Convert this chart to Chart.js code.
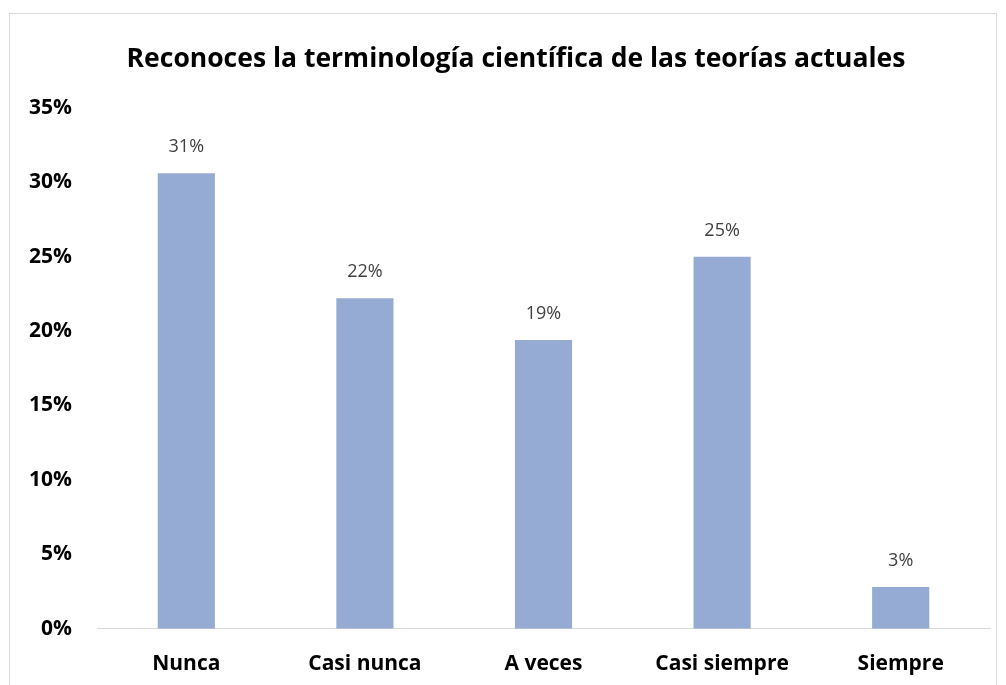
<!DOCTYPE html>
<html>
<head>
<meta charset="utf-8">
<script src="https://cdn.jsdelivr.net/npm/chart.js@4.4.1/dist/chart.umd.min.js"></script>
<style>
  html, body { margin: 0; padding: 0; background: #fff; }
  #wrap { position: relative; width: 1006px; height: 685px; }
  #frame { position: absolute; left: 9px; top: 13px; width: 986px; height: 700px; border: 1px solid #d9d9d9; pointer-events: none; }
</style>
</head>
<body>
<div id="wrap">
  <canvas id="myChart" width="1006" height="685"></canvas>
  <div id="frame"></div>
</div>
<script>
const categories = ["Nunca", "Casi nunca", "A veces", "Casi siempre", "Siempre"] ;
const percentValues = [30.6, 22.2, 19.4, 25.0, 2.8] ;
const percentLabels = ["31%", "22%", "19%", "25%", "3%"] ;
const yTicks = [0, 5, 10, 15, 20, 25, 30, 35] ;

const fontName = "'Open Sans', 'Liberation Sans', sans-serif" ;

// writes the value above each bar
const barLabels = {
  id: "barLabels",
  afterDatasetsDraw(chart) {
    const ctx = chart.ctx ;
    const meta = chart.getDatasetMeta(0) ;
    ctx.save() ;
    ctx.font = "18px " + fontName ;
    ctx.fillStyle = "#404040" ;
    ctx.textAlign = "center" ;
    ctx.textBaseline = "middle" ;
    meta.data.forEach((bar, i) => {
      ctx.fillText(percentLabels[i], bar.x, bar.y - 26) ;
    }) ;
    ctx.restore() ;
  }
} ;

// nudge the title a bit to the right, like the original
const titleShift = {
  id: "titleShift",
  afterLayout(chart) {
    const tb = chart.titleBlock ;
    if (tb) { tb.left += 21 ; tb.right += 21 ; }
  }
} ;

const ctx = document.getElementById("myChart") ;
new Chart(ctx, {
  type: "bar",
  data: {
    labels: categories,
    datasets: [{
      data: percentValues,
      backgroundColor: "#96abd3",
      borderWidth: 0,
      barPercentage: 0.64,
      categoryPercentage: 0.5
    }]
  },
  options: {
    responsive: false,
    animation: false,
    layout: { padding: { left: 0, right: 16, top: 0, bottom: -15 } },
    plugins: {
      legend: { display: false },
      tooltip: { enabled: false },
      title: {
        display: true,
        text: "Reconoces la terminología científica de las teorías actuales",
        color: "#000",
        font: { family: fontName, size: 26.5, weight: "bold" },
        padding: { top: 44, bottom: 32 }
      }
    },
    scales: {
      x: {
        grid: { display: false, drawTicks: false },
        border: { display: true, color: "#d9d9d9", width: 1 },
        ticks: {
          color: "#000",
          padding: 23,
          font: { family: fontName, size: 21, weight: "bold" }
        }
      },
      y: {
        min: 0,
        max: 35,
        afterFit(scale) { scale.width = 97 ; },
        afterBuildTicks(scale) { scale.ticks = yTicks.map(v => ({ value: v })) ; },
        grid: { display: false, drawTicks: false },
        border: { display: false },
        ticks: {
          color: "#000",
          padding: 25,
          font: { family: fontName, size: 21, weight: "bold" },
          callback: (v) => v + "%"
        }
      }
    }
  },
  plugins: [barLabels, titleShift]
}) ;
</script>
</body>
</html>
